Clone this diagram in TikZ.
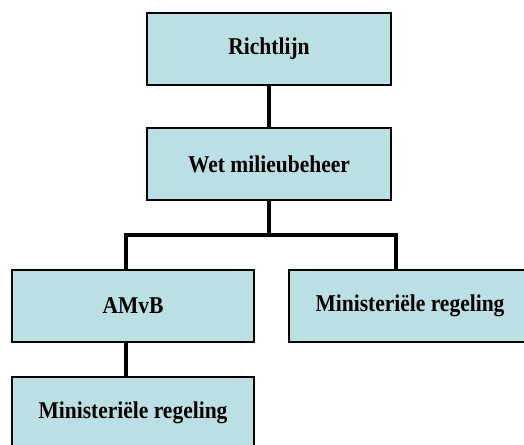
\documentclass[tikz,border=0pt]{standalone}
\usepackage{fontspec}
\setmainfont{Liberation Serif}
\definecolor{boxfill}{HTML}{BBE0E3}
\tikzset{
  orgbox/.style={draw=black, line width=1.3pt, fill=boxfill, minimum height=72pt, inner sep=0pt,
    font=\fontsize{21.5}{21.5}\selectfont\bfseries},
  conn/.style={line width=4pt, line cap=butt, line join=miter}
}
\newcommand{\boxtxt}[1]{\scalebox{1}[1.12]{#1}}
\begin{document}
\begin{tikzpicture}[x=1pt,y=1pt]
\useasboundingbox (0,0) rectangle (524,-444);
\clip (0,0) rectangle (524,-444);
\coordinate (jl) at (126,-235);
\coordinate (jr) at (396,-235);
\node[orgbox, minimum width=244pt] (r) at (269,-49) {\boxtxt{Richtlijn}};
\node[orgbox, minimum width=244pt] (w) at (269,-164) {\boxtxt{Wet milieubeheer}};
\node[orgbox, minimum width=242pt] (a) at (133,-306) {\boxtxt{AMvB}};
\node[orgbox, minimum width=242pt] (m) at (410,-306) {\boxtxt{Ministeriële regeling}};
\node[orgbox, minimum width=242pt] (b) at (133,-413) {\boxtxt{Ministeriële regeling}};
\draw[conn] (r.south) -- (w.north);
\draw[conn] (w.south) -- (w.south |- jl);
\draw[conn] (a.north -| jl) -- (jl) -- (jr) -- (m.north -| jr);
\draw[conn] (a.south -| jl) -- (b.north -| jl);
\end{tikzpicture}
\end{document}
